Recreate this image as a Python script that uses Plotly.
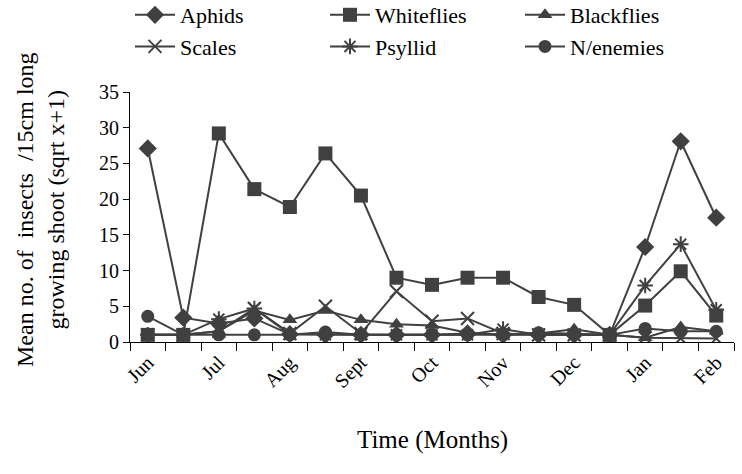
import plotly.graph_objects as go

months = ["Jun", "Jul", "Aug", "Sept", "Oct", "Nov", "Dec", "Jan", "Feb"]
n_points = 17

aphids     = [27.1, 3.4, 2.6, 3.3, 1.1, 1.0, 1.0, 1.0, 1.0, 1.2, 1.0, 1.0, 1.0, 1.0, 13.3, 28.1, 17.4]
whiteflies = [1.0, 1.0, 29.2, 21.4, 18.9, 26.4, 20.5, 9.0, 8.0, 9.0, 9.0, 6.3, 5.2, 1.0, 5.1, 9.9, 3.7]
blackflies = [1.0, 1.0, 1.5, 4.4, 3.1, 4.4, 3.1, 2.5, 2.3, 1.3, 1.0, 1.2, 1.8, 1.0, 0.6, 2.1, 1.5]
scales     = [1.0, 1.0, 1.5, 4.7, 1.2, 5.0, 1.2, 7.1, 2.9, 3.3, 1.2, 1.0, 1.0, 1.0, 0.6, 0.5, 0.5]
psyllid    = [1.0, 1.0, 3.2, 4.7, 1.1, 1.0, 1.0, 1.0, 1.0, 1.0, 1.8, 1.0, 1.0, 1.0, 7.9, 13.7, 4.5]
nenemies   = [3.6, 1.0, 1.0, 1.0, 1.0, 1.4, 1.0, 1.0, 1.0, 1.0, 1.0, 1.3, 1.2, 1.0, 1.9, 1.5, 1.5]

series = [
    ("Aphids", aphids, "diamond", 14),
    ("Whiteflies", whiteflies, "square", 14),
    ("Blackflies", blackflies, "triangle-up", 13),
    ("Scales", scales, "x-thin-open", 13),
    ("Psyllid", psyllid, "asterisk-open", 13),
    ("N/enemies", nenemies, "circle", 13),
]

col = "#404040"
x = list(range(n_points))
fig = go.Figure()
for name, vals, sym, sz in series:
    marker = dict(symbol=sym, size=sz, color=col)
    if sym.endswith("open"):
        marker["line"] = dict(width=2, color=col)
    fig.add_trace(go.Scatter(x=x, y=vals, name=name, mode="lines+markers",
                             line=dict(color=col, width=2), marker=marker))

font = "Liberation Serif"
fig.update_layout(
    width=742, height=474,
    margin=dict(l=130, r=8, t=92, b=132, autoexpand=False),
    paper_bgcolor="white", plot_bgcolor="white",
    font=dict(family=font, size=20, color="black"),
    showlegend=True,
    legend=dict(orientation="h", x=0.0, xanchor="left", y=1.392, yanchor="top",
                entrywidth=140, entrywidthmode="pixels",
                font=dict(size=22, family=font), tracegroupgap=0,
                itemwidth=40, bgcolor="rgba(0,0,0,0)"),
    xaxis=dict(range=[-0.5, n_points - 0.5], tickmode="array",
               tickvals=list(range(0, n_points, 2)), ticktext=months,
               tickangle=-45, ticks="", showgrid=False, zeroline=False,
               showline=True, linecolor="black", linewidth=1,
               tickfont=dict(size=20, family=font),
               minor=dict(tickmode="array", tickvals=[i - 0.5 for i in range(n_points + 1)],
                          ticks="outside", ticklen=8, tickcolor="black", showgrid=False),
               automargin=False),
    yaxis=dict(range=[0, 35], dtick=5, ticks="outside", ticklen=6, tickcolor="black",
               showline=True, linecolor="black", linewidth=1, showgrid=False,
               zeroline=False, tickfont=dict(size=20, family=font), automargin=False),
    annotations=[
        dict(text="Time (Months)", xref="paper", yref="paper", x=0.5, y=-0.39,
             xanchor="center", yanchor="middle", showarrow=False,
             font=dict(size=25, family=font)),
        dict(text="Mean no. of  insects  /15cm long<br>growing shoot (sqrt x+1)",
             xref="paper", yref="paper", x=-0.149, y=0.528, textangle=-90,
             xanchor="center", yanchor="middle", showarrow=False,
             font=dict(size=24, family=font)),
    ],
)

fig.write_html("out.html", config={"displayModeBar": False},
               post_script="document.body.style.margin='0';")
